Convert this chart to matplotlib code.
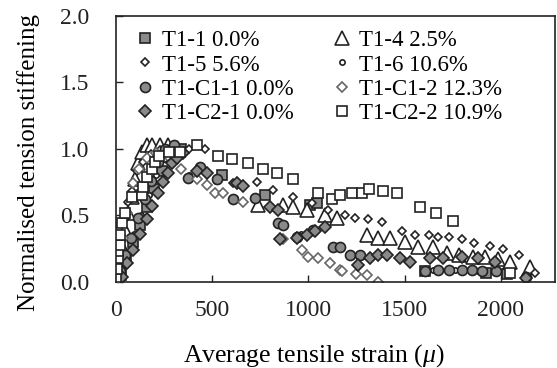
import matplotlib
matplotlib.use("Agg")
import matplotlib.pyplot as plt

plt.rcParams['font.family'] = ['Liberation Serif', 'DejaVu Serif']
plt.rcParams['mathtext.fontset'] = 'custom'
plt.rcParams['mathtext.rm'] = 'Liberation Serif'
plt.rcParams['mathtext.it'] = 'Liberation Serif:italic'

# ---- data ----
t11_x = [0, 25, 55, 90, 125, 160, 200, 240, 290, 340, 550, 773, 1007, 1043, 1604, 1925, 2030]
t11_y = [0.0, 0.05, 0.17, 0.30, 0.43, 0.56, 0.70, 0.83, 0.95, 1.00, 0.80, 0.65, 0.58, 0.59, 0.08, 0.07, 0.06]

t14_x = [0, 10, 30, 47, 62, 83, 99, 114, 135, 160, 190, 230, 270, 320, 737, 867, 919, 991, 1085, 1147,
         1303, 1360, 1422, 1500, 1567, 1645, 1718, 1785, 1853, 1915, 1983, 2045, 2149]
t14_y = [0.0, 0.15, 0.26, 0.39, 0.52, 0.64, 0.77, 0.89, 0.98, 1.03, 1.03, 1.03, 1.03, 1.01, 0.58, 0.58, 0.56, 0.54, 0.50, 0.48,
         0.35, 0.33, 0.33, 0.30, 0.26, 0.26, 0.22, 0.20, 0.19, 0.19, 0.17, 0.15, 0.11]

t15_x = [0, 10, 25, 45, 65, 83, 109, 140, 180, 230, 300, 380, 462, 607, 731, 815, 919, 1017, 1100, 1189, 1240,
         1308, 1380, 1485, 1552, 1625, 1676, 1728, 1800, 1858, 1941, 2009, 2092, 2175]
t15_y = [0.0, 0.12, 0.30, 0.47, 0.60, 0.68, 0.83, 0.90, 0.96, 0.99, 1.00, 1.00, 1.00, 0.74, 0.75, 0.69, 0.64, 0.59, 0.54, 0.50, 0.48,
         0.47, 0.45, 0.38, 0.35, 0.35, 0.34, 0.34, 0.32, 0.29, 0.27, 0.25, 0.20, 0.07]

t16_x = [0, 30, 60, 95, 130, 170, 210, 250, 300, 380, 520, 620, 720, 850, 960, 1140, 1260, 1650, 1760, 1880, 2120]
t16_y = [0.0, 0.10, 0.22, 0.36, 0.50, 0.65, 0.80, 0.92, 0.98, 0.80, 0.76, 0.63, 0.62, 0.44, 0.36, 0.26, 0.20, 0.09, 0.09, 0.08, 0.04]

tc11_x = [0, 20, 50, 80, 115, 150, 185, 220, 255, 300, 374, 436, 524, 607, 721, 841, 867, 939, 1022, 1126, 1163,
          1214, 1266, 1604, 1671, 1733, 1800, 1850, 1900, 1977, 2133]
tc11_y = [0.0, 0.08, 0.20, 0.33, 0.48, 0.62, 0.76, 0.90, 1.00, 1.03, 0.78, 0.86, 0.77, 0.62, 0.63, 0.44, 0.43, 0.34, 0.39, 0.26, 0.26,
          0.20, 0.20, 0.08, 0.09, 0.09, 0.09, 0.09, 0.08, 0.08, 0.04]

tc12_x = [0, 15, 35, 60, 88, 120, 160, 210, 270, 340, 420, 472, 514, 555, 659, 867, 965, 996, 1048, 1110, 1163,
          1173, 1250, 1303, 1360]
tc12_y = [0.0, 0.15, 0.33, 0.52, 0.74, 0.85, 0.93, 0.97, 0.95, 0.85, 0.77, 0.73, 0.67, 0.67, 0.60, 0.32, 0.24, 0.19, 0.18, 0.14, 0.09,
          0.08, 0.06, 0.05, 0.0]

tc21_x = [0, 31, 60, 88, 125, 161, 190, 218, 245, 270, 290, 316, 350, 420, 472, 628, 659, 799, 841, 851, 939, 991,
          1033, 1085, 1256, 1318, 1360, 1406, 1474, 1526, 1630, 1700, 1800, 1879, 1967, 2133]
tc21_y = [0.0, 0.04, 0.14, 0.24, 0.36, 0.47, 0.57, 0.67, 0.75, 0.82, 0.89, 0.93, 0.97, 0.83, 0.82, 0.74, 0.72, 0.56, 0.54, 0.32, 0.33, 0.35,
          0.38, 0.41, 0.13, 0.18, 0.20, 0.20, 0.18, 0.15, 0.18, 0.18, 0.19, 0.18, 0.15, 0.03]

tc22_x = [0, 5, 10, 10, 21, 21, 31, 47, 83, 135, 140, 161, 187, 202, 223, 275, 332, 420, 530, 602, 685, 763, 836,
          919, 1049, 1121, 1163, 1225, 1277, 1313, 1386, 1458, 1578, 1661, 1749, 2045]
tc22_y = [0.02, 0.10, 0.18, 0.23, 0.28, 0.35, 0.44, 0.52, 0.64, 0.65, 0.71, 0.79, 0.85, 0.90, 0.95, 0.98, 0.98, 1.03, 0.95, 0.92, 0.89, 0.85, 0.82,
          0.77, 0.67, 0.62, 0.65, 0.67, 0.67, 0.70, 0.68, 0.67, 0.56, 0.52, 0.46, 0.07]

labels = ["T1-1 0.0%", "T1-4 2.5%", "T1-5 5.6%", "T1-6 10.6%",
          "T1-C1-1 0.0%", "T1-C1-2 12.3%", "T1-C2-1 0.0%", "T1-C2-2 10.9%"]
xticks = [0, 500, 1000, 1500, 2000]
yticks = [0.0, 0.5, 1.0, 1.5, 2.0]

GRAY = '#8a8a8a'
series = [
    (t11_x, t11_y, dict(marker='s', ms=6.5, mfc=GRAY, mec='#222222')),
    (t14_x, t14_y, dict(marker='^', ms=9.5, mfc='white', mec='#222222')),
    (t15_x, t15_y, dict(marker='D', ms=3.6, mfc='white', mec='#222222')),
    (t16_x, t16_y, dict(marker='o', ms=3.8, mfc='white', mec='#222222')),
    (tc11_x, tc11_y, dict(marker='o', ms=7.2, mfc=GRAY, mec='#222222')),
    (tc12_x, tc12_y, dict(marker='D', ms=5.2, mfc='white', mec='#666666')),
    (tc21_x, tc21_y, dict(marker='D', ms=5.8, mfc=GRAY, mec='#222222')),
    (tc22_x, tc22_y, dict(marker='s', ms=7.4, mfc='white', mec='#222222')),
]

fig = plt.figure(figsize=(5.57, 3.68), dpi=100)
ax = fig.add_axes([0.208, 0.234, 0.788, 0.723])

handles = []
for (xs, ys, st), lab in zip(series, labels):
    h, = ax.plot(xs, ys, linestyle='none', mew=1.2, label=lab, **st)
    handles.append(h)

ax.set_xlim(0, 2280)
ax.set_ylim(0, 2.0)
ax.set_xticks(xticks)
ax.set_xticklabels([str(v) for v in xticks])
ax.set_yticks(yticks)
ax.set_yticklabels([f"{v:.1f}" for v in yticks])
ax.tick_params(direction='in', length=5, width=1, labelsize=17, colors='#222222')
ax.tick_params(axis='y', pad=19)
ax.tick_params(axis='x', pad=13)
for s in ax.spines.values():
    s.set_linewidth(1.2)
    s.set_color('#222222')
    s.set_zorder(5)

ax.set_xlabel("Average tensile strain ($\\mu$)", fontsize=18.5)
ax.set_ylabel("Normalised tension stiffening", fontsize=18)
ax.xaxis.set_label_coords(0.451, -0.225)
ax.yaxis.set_label_coords(-0.172, 0.45)

# legend filled row by row like the reference (matplotlib fills column-major)
order = [0, 2, 4, 6, 1, 3, 5, 7]
ax.legend([handles[i] for i in order], [labels[i] for i in order], ncol=2,
          loc='upper left', bbox_to_anchor=(0.045, 0.945),
          frameon=False, fontsize=16.5, handlelength=0.8, handletextpad=0.34,
          columnspacing=1.7, labelspacing=0.13, borderaxespad=0.0, borderpad=0.0)

fig.savefig("out.png", dpi=100)
